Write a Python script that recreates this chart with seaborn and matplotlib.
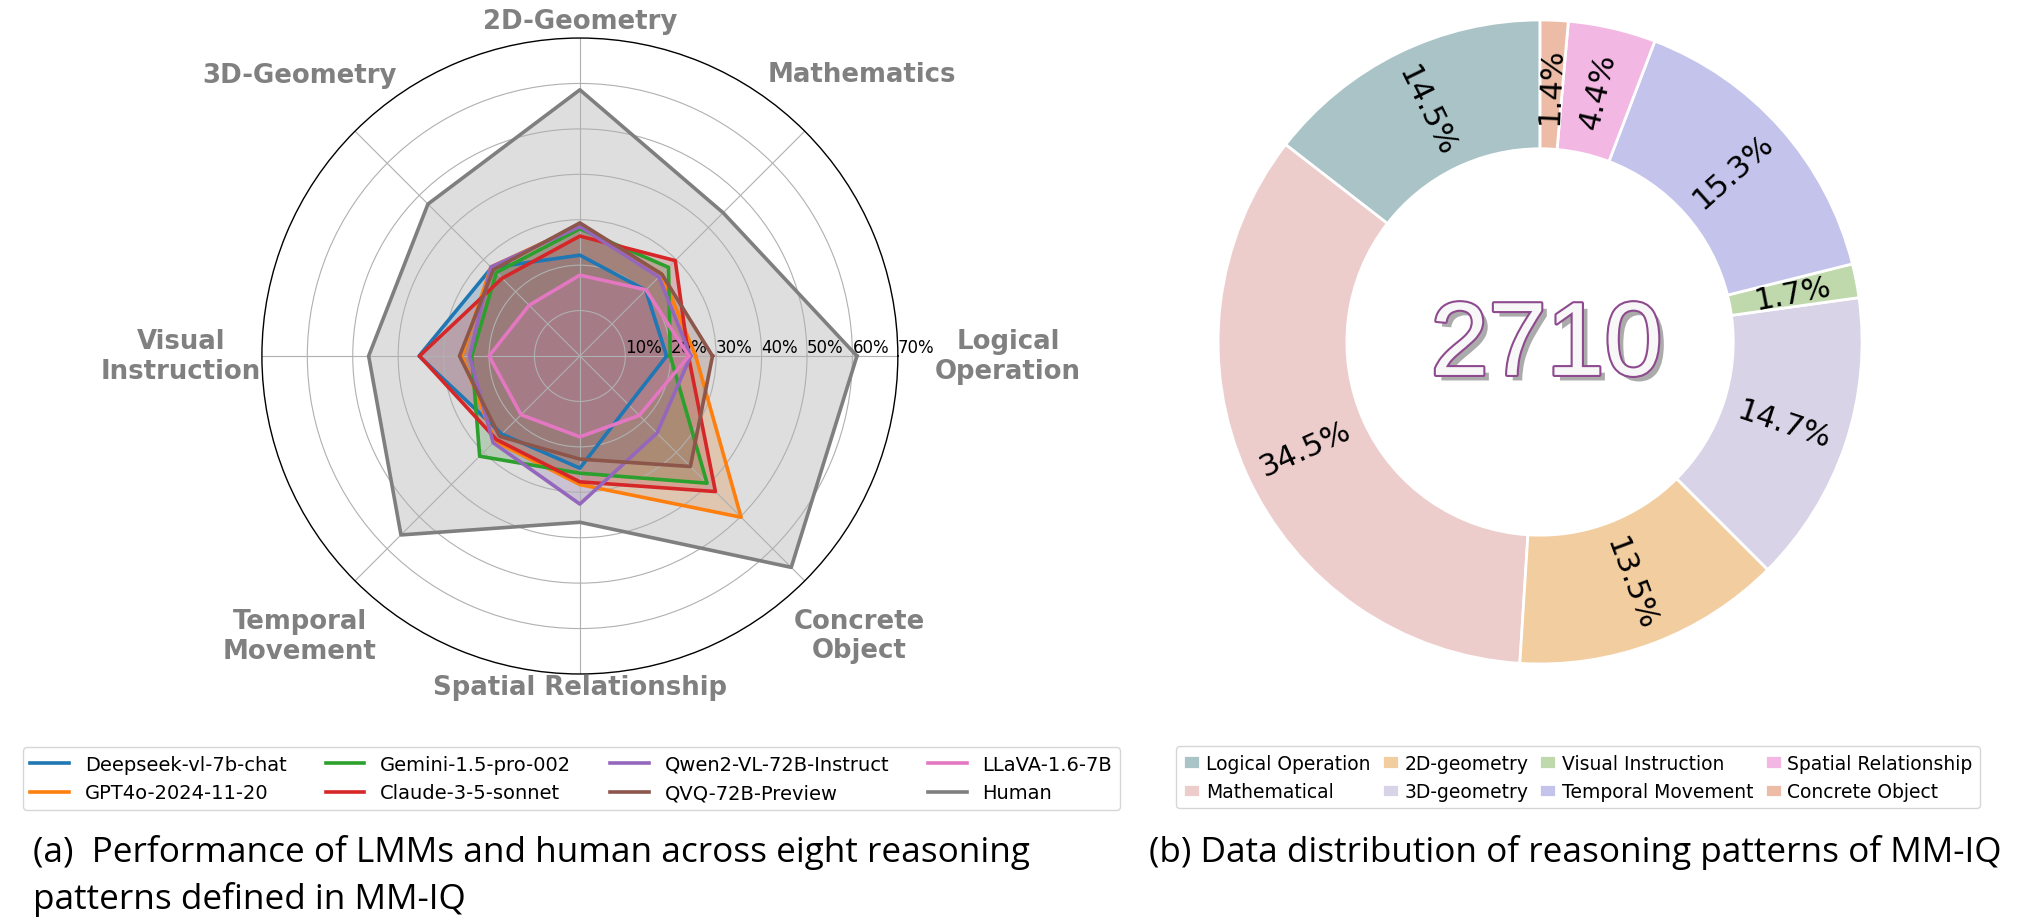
import numpy as np
import matplotlib
matplotlib.use("Agg")
import matplotlib.pyplot as plt
import matplotlib.patheffects as pe
import seaborn as sns

# ---------------- data ----------------
categories = ["Logical\nOperation", "Mathematics", "2D-Geometry", "3D-Geometry",
              "Visual\nInstruction", "Temporal\nMovement", "Spatial Relationship",
              "Concrete\nObject"]
models = ["Deepseek-vl-7b-chat", "GPT4o-2024-11-20", "Gemini-1.5-pro-002",
          "Claude-3-5-sonnet", "Qwen2-VL-72B-Instruct", "QVQ-72B-Preview",
          "LLaVA-1.6-7B", "Human"]
deepseek = [19.1, 20.5, 22.2, 27.5, 35.4, 24.3, 24.7, 15.2]
gpt4o = [25.5, 25.5, 28.7, 27.7, 26.0, 26.5, 28.3, 50.2]
gemini = [19.9, 27.6, 28.0, 26.0, 23.8, 31.2, 25.8, 39.6]
claude = [23.9, 29.7, 26.4, 24.2, 35.3, 26.0, 27.7, 42.2]
qwen2 = [24.4, 24.6, 28.5, 27.7, 24.3, 27.0, 32.6, 24.0]
qvq = [29.2, 25.5, 29.3, 26.9, 26.5, 25.0, 22.7, 34.4]
llava = [24.0, 20.6, 17.8, 15.8, 20.0, 18.3, 17.8, 18.5]
human = [61.0, 44.6, 58.6, 47.3, 46.5, 55.7, 36.6, 65.8]
radial_ticks = [10, 20, 30, 40, 50, 60, 70]
radial_labels = ["10%", "20%", "30%", "40%", "50%", "60%", "70%"]

pie_labels = ["Logical Operation", "Mathematical", "2D-geometry", "3D-geometry",
              "Visual Instruction", "Temporal Movement", "Spatial Relationship",
              "Concrete Object"]
pie_values = [14.5, 34.5, 13.5, 14.7, 1.7, 15.3, 4.4, 1.4]
pie_colors = ["#a9c3c7", "#eccdcc", "#f2cda0", "#d8d3e6", "#bfd9ad",
              "#c3c3ec", "#f3b7e3", "#edbca7"]
total_count = "2710"

caption_a = ["(a)  Performance of LMMs and human across eight reasoning",
             "patterns defined in MM-IQ"]
caption_b = "(b) Data distribution of reasoning patterns of MM-IQ"

# ---------------- figure ----------------
fig = plt.figure(figsize=(20.24, 9.2), dpi=100)
palette = sns.color_palette("tab10", 8)
series = [deepseek, gpt4o, gemini, claude, qwen2, qvq, llava, human]

# radar
ax = fig.add_axes([0.1294, 0.2663, 0.3142, 0.6913], projection="polar")
n = len(categories)
angles = np.linspace(0, 2 * np.pi, n, endpoint=False)
closed = np.concatenate([angles, angles[:1]])
handles = []
for name, vals, col in zip(models, series, palette):
    v = np.concatenate([vals, vals[:1]])
    ln, = ax.plot(closed, v, color=col, lw=2.6, label=name, zorder=3)
    ax.fill(closed, v, color=col, alpha=0.25, zorder=1)
    handles.append(ln)

ax.set_ylim(0, 70)
ax.set_yticks(radial_ticks[:-1])
ax.set_yticklabels([])
ax.set_xticks(angles)
ax.set_xticklabels([])
ax.grid(color="#b0b0b0", lw=0.8)
ax.spines["polar"].set_color("black")
ax.spines["polar"].set_linewidth(1.0)
for r, lab in zip(radial_ticks, radial_labels):
    ax.text(0, r, lab, ha="left", va="bottom", fontsize=12, zorder=2)

label_r = [94.3, 87.8, 73.7, 87.4, 87.8, 87.2, 72.9, 87.0]
for ang, lab, rr in zip(angles, categories, label_r):
    ax.text(ang, rr, lab, ha="center", va="center", fontsize=18.7,
            fontweight="bold", color="#808080", linespacing=1.17,
            clip_on=False)

fig.legend(handles=handles, labels=models, ncol=4, loc="upper left",
           bbox_to_anchor=(0.0112, 0.187), borderaxespad=0, fontsize=14,
           handlelength=2.0, columnspacing=2.0, frameon=True)

# donut
ax2 = fig.add_axes([0.6018, 0.2772, 0.3182, 0.70])
wedges, texts, autotexts = ax2.pie(
    pie_values, colors=pie_colors, startangle=90, counterclock=True,
    autopct="%.1f%%", pctdistance=0.8,
    wedgeprops=dict(width=0.4, edgecolor="white", linewidth=2),
    textprops=dict(fontsize=22, color="black"))
for w, t in zip(wedges, autotexts):
    mid = (w.theta1 + w.theta2) / 2.0
    rot = mid % 360
    if 90 < rot < 270:
        rot -= 180
    elif rot >= 270:
        rot -= 360
    t.set_rotation(rot)
    t.set_rotation_mode("anchor")
    t.set_ha("center")
    t.set_va("center")
ax2.set_xlim(-1.0, 1.0)
ax2.set_ylim(-1.0, 1.0)
ax2.set_aspect("equal")
ax2.axis("off")

ax2.text(0.02, -0.02, total_count, ha="center", va="center", fontsize=75,
         family="Liberation Sans", color="#f7f7f7",
         path_effects=[pe.SimplePatchShadow(offset=(4, -4), shadow_rgbFace="#666666", alpha=0.55),
                       pe.Stroke(linewidth=3, foreground="#8e4a8e"),
                       pe.Normal()])

fig.legend(handles=wedges, labels=pie_labels, ncol=4, loc="upper left",
           bbox_to_anchor=(0.581, 0.188), borderaxespad=0, fontsize=13.5,
           handlelength=0.9, handletextpad=0.3, columnspacing=0.6, frameon=True)

# captions
fig.text(33 / 2024, 1 - 862 / 920, caption_a[0], fontsize=25.3, family="Open Sans",
         ha="left", va="baseline")
fig.text(33 / 2024, 1 - 909 / 920, caption_a[1], fontsize=25.3, family="Open Sans",
         ha="left", va="baseline")
fig.text(1149 / 2024, 1 - 862 / 920, caption_b, fontsize=25.3, family="Open Sans",
         ha="left", va="baseline")

fig.savefig("out.png", dpi=100)
